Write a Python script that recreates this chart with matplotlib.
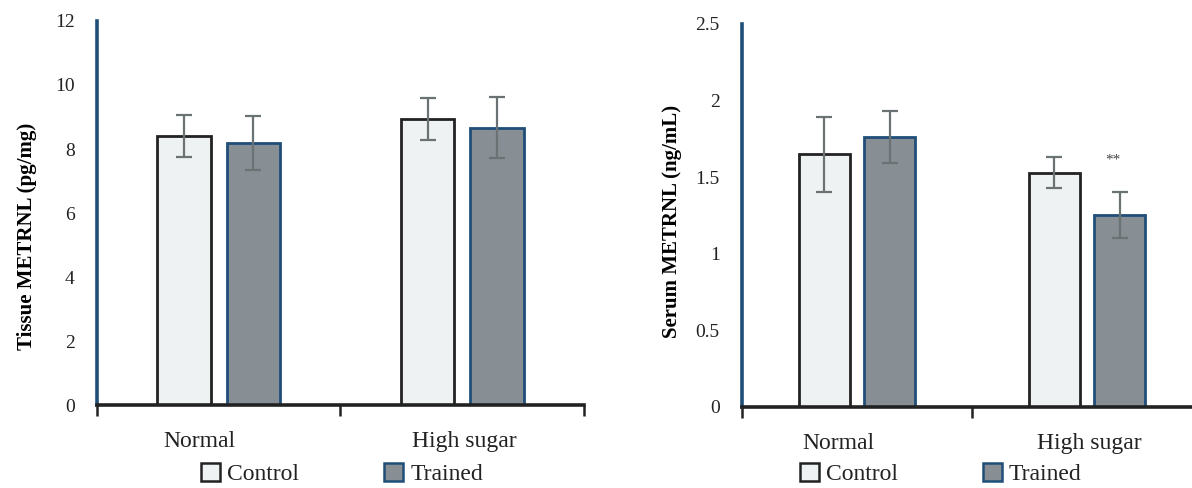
import numpy as np
import matplotlib
matplotlib.use("Agg")
import matplotlib.pyplot as plt
from matplotlib.patches import Patch

plt.rcParams['font.family'] = ['Liberation Serif', 'DejaVu Serif']

groups = ["Normal", "High sugar"]
series = ["Control", "Trained"]

tissue_control = [8.4, 8.94]
tissue_control_err = [0.65, 0.66]
tissue_trained = [8.18, 8.66]
tissue_trained_err = [0.85, 0.95]

serum_control = [1.65, 1.53]
serum_control_err = [0.245, 0.10]
serum_trained = [1.76, 1.25]
serum_trained_err = [0.17, 0.15]

CTRL_FILL = '#eef2f2'
CTRL_EDGE = '#222222'
TRN_FILL = '#878e94'
TRN_EDGE = '#1f4e79'
ERR_COLOR = '#6b7273'
AXIS_BLUE = '#1f4e79'

fig = plt.figure(figsize=(11.92, 4.88), dpi=100)

def draw_panel(ax, ctrl, ctrl_err, trn, trn_err, ymax, step, ylabel, fmt, label_xy):
    x = np.arange(len(groups))
    w = 0.22
    off = 0.142
    ax.bar(x - off, ctrl, w, color=CTRL_FILL, edgecolor=CTRL_EDGE, linewidth=2, zorder=2)
    ax.bar(x + off, trn, w, color=TRN_FILL, edgecolor=TRN_EDGE, linewidth=2, zorder=2)
    ax.errorbar(x - off, ctrl, yerr=ctrl_err, fmt='none', ecolor=ERR_COLOR,
                elinewidth=1.6, capsize=6, capthick=1.6, zorder=3)
    ax.errorbar(x + off, trn, yerr=trn_err, fmt='none', ecolor=ERR_COLOR,
                elinewidth=1.6, capsize=6, capthick=1.6, zorder=3)

    ax.set_xlim(-0.5, len(groups) - 0.5)
    ax.set_ylim(0, ymax)
    ticks = np.arange(0, ymax + step / 2, step)
    ax.set_yticks(ticks)
    ax.set_yticklabels([fmt(t) for t in ticks], fontsize=14, color='#222222')
    ax.tick_params(axis='y', length=0, pad=16)

    # category boundary ticks (Excel style) with labels in between
    ax.set_xticks(np.arange(-0.5, len(groups)))
    ax.set_xticklabels([])
    ax.tick_params(axis='x', which='major', direction='out', length=8, width=1.8, color='#222222')
    ax.set_xticks(x + np.array([-0.08, 0.01]), minor=True)
    ax.set_xticklabels(groups, minor=True, fontsize=17, color='#222222')
    ax.tick_params(axis='x', which='minor', length=0, pad=19)

    for s in ['top', 'right']:
        ax.spines[s].set_visible(False)
    ax.spines['left'].set_color(AXIS_BLUE)
    ax.spines['left'].set_linewidth(2.6)
    ax.spines['bottom'].set_color('#222222')
    ax.spines['bottom'].set_linewidth(2.6)
    ax.set_ylabel(ylabel, fontsize=15, fontweight='bold')
    ax.yaxis.set_label_coords(*label_xy)
    return x, off

def add_legend(ax, xc):
    handles = [Patch(facecolor=CTRL_FILL, edgecolor=CTRL_EDGE, linewidth=1.8),
               Patch(facecolor=TRN_FILL, edgecolor=TRN_EDGE, linewidth=1.8)]
    leg = ax.legend(handles, series, loc='center', bbox_to_anchor=(xc, 0.028),
                    bbox_transform=fig.transFigure, ncol=2, frameon=False,
                    fontsize=17, handlelength=0.8, handleheight=0.8,
                    handletextpad=0.3, columnspacing=3.6, borderpad=0.1)
    for t in leg.get_texts():
        t.set_color('#222222')

ax1 = fig.add_axes([0.0814, 0.170, 0.4085, 0.787])
draw_panel(ax1, tissue_control, tissue_control_err, tissue_trained, tissue_trained_err,
           12, 2, 'Tissue METRNL (pg/mg)', lambda v: '%d' % v, (-0.123, 0.44))
add_legend(ax1, 0.287)

ax2 = fig.add_axes([0.6225, 0.166, 0.386, 0.785])
x2, off2 = draw_panel(ax2, serum_control, serum_control_err, serum_trained, serum_trained_err,
                      2.5, 0.5, 'Serum METRNL (ng/mL)', lambda v: ('%g' % v), (-0.13, 0.485))
add_legend(ax2, 0.789)
ax2.text(x2[1] + off2 - 0.03, serum_trained[1] + serum_trained_err[1] + 0.17, '**',
         ha='center', va='bottom', fontsize=11, color='#444444')

fig.savefig('out.png', dpi=100)
